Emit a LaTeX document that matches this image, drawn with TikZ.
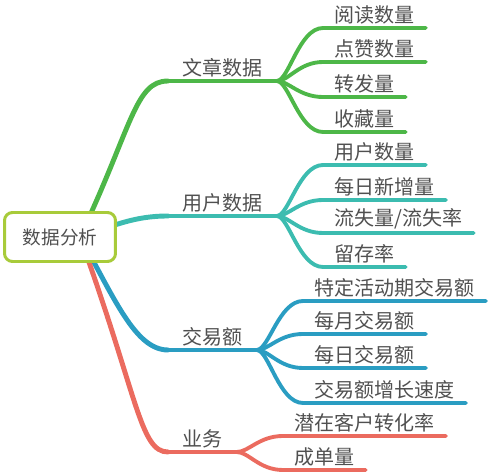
\documentclass[tikz,border=0pt]{standalone}
\usepackage{fontspec}
\newfontfamily\cjk{Noto Sans CJK SC}
\usetikzlibrary{backgrounds}
\definecolor{rootline}{HTML}{A8CB3A}
\definecolor{artgreen}{HTML}{4DB748}
\definecolor{usrteal}{HTML}{3CBCB0}
\definecolor{dealblue}{HTML}{2A9DC2}
\definecolor{bizred}{HTML}{EB6B5F}
\definecolor{labelgray}{HTML}{505050}

\begin{document}
\begin{tikzpicture}[x=0.02cm, y=-0.02cm,
  every node/.style={font=\cjk\fontsize{11.4}{13}\selectfont, text=labelgray},
  topic/.style={inner xsep=0.28cm, inner ysep=2pt, anchor=south west},
  leaf/.style={inner xsep=0.22cm, inner ysep=2pt, anchor=south west},
  branch/.style={line width=2.8pt, line cap=round},
  twig/.style={line width=2.2pt, line cap=round}]
\useasboundingbox (0,0) rectangle (494,476);

% central topic
\node [draw=rootline, line width=1.7pt, fill=white, rounded corners=0.16cm,
  minimum width=2.22cm, minimum height=0.98cm,
  font=\cjk\fontsize{10.6}{12}\selectfont] (root) at (60,237) {数据分析};

% main topics
\node [topic] (art) at (168,81) {文章数据};
\node [topic] (usr) at (168,216) {用户数据};
\node [topic] (deal) at (168,350) {交易额};
\node [topic] (biz) at (168,452) {业务};

% sub topics
\node [leaf] (read) at (323,28) {阅读数量};
\node [leaf] (like) at (323,62) {点赞数量};
\node [leaf] (fwd) at (323,97) {转发量};
\node [leaf] (fav) at (323,132) {收藏量};

\node [leaf] (usrnum) at (323,165) {用户数量};
\node [leaf] (newusr) at (323,200) {每日新增量};
\node [leaf] (churn) at (323,233) {流失量/流失率};
\node [leaf] (retain) at (323,267) {留存率};

\node [leaf] (promo) at (303,301) {特定活动期交易额};
\node [leaf] (monthly) at (303,334) {每月交易额};
\node [leaf] (daily) at (303,368) {每日交易额};
\node [leaf] (growth) at (303,403) {交易额增长速度};

\node [leaf] (convert) at (283,436) {潜在客户转化率};
\node [leaf] (orders) at (283,470) {成单量};

% root to main topics, hidden under the box
\begin{scope}[on background layer]
\draw [branch, artgreen] (root.center) ++(20,0) .. controls +(52,-110) and +(-33,0) .. (art.south west);
\draw [branch, usrteal] (root.center) ++(20,0) .. controls +(35,-12) and +(-33,0) .. (usr.south west);
\draw [branch, dealblue] (root.center) ++(20,0) .. controls +(34,60) and +(-33,0) .. (deal.south west);
\draw [branch, bizred] (root.center) ++(20,0) .. controls +(58,160) and +(-28,0) .. (biz.south west);
\end{scope}

% underlines of main topics
\draw [branch, artgreen] (art.south west) -- (art.south east);
\draw [branch, usrteal] (usr.south west) -- (usr.south east);
\draw [branch, dealblue] (deal.south west) -- (deal.south east);
\draw [branch, bizred] (biz.south west) -- (biz.south east);

% fans to sub topics
\foreach \t in {read,like,fwd,fav}
  \draw [twig, artgreen] (art.south east) .. controls +(12,0) and +(-24,0) .. (\t.south west) -- (\t.south east);
\foreach \t in {usrnum,newusr,churn,retain}
  \draw [twig, usrteal] (usr.south east) .. controls +(12,0) and +(-24,0) .. (\t.south west) -- (\t.south east);
\foreach \t in {promo,monthly,daily,growth}
  \draw [twig, dealblue] (deal.south east) .. controls +(12,0) and +(-24,0) .. (\t.south west) -- (\t.south east);
\foreach \t in {convert,orders}
  \draw [twig, bizred] (biz.south east) .. controls +(12,0) and +(-24,0) .. (\t.south west) -- (\t.south east);
\end{tikzpicture}
\end{document}
